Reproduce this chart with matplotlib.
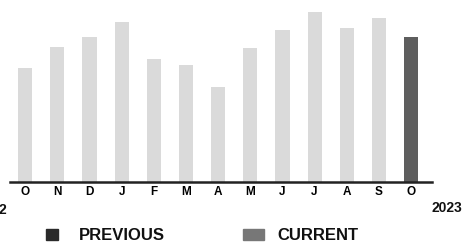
import matplotlib
matplotlib.use("Agg")
import matplotlib.pyplot as plt

# Meses (oct 2022 -> oct 2023) y alturas
meses = ["O", "N", "D", "J", "F", "M", "A", "M", "J", "J", "A", "S", "O"]
valores = [114, 135, 145, 160, 123, 117, 95, 134, 152, 170, 154, 164, 145]
es_actual = [False] * 12 + [True]
anio_ini = "2022"
anio_fin = "2023"

COLOR_PREV = "#dadada"
COLOR_ACT = "#5e5e5e"

W, H = 464, 242
fig = plt.figure(figsize=(W / 100, H / 100), dpi=100)
ax = fig.add_axes([10 / W, 1 - 182 / H, (432 - 10) / W, 182 / H])

x = list(range(len(meses)))
colores = [COLOR_ACT if a else COLOR_PREV for a in es_actual]
ax.bar(x, valores, width=0.44, color=colores, edgecolor="none")

ax.set_xlim(-0.47, 12.65)
ax.set_ylim(0, 182)
for s in ["top", "right", "left"]:
    ax.spines[s].set_visible(False)
ax.spines["bottom"].set_linewidth(1.8)
ax.spines["bottom"].set_color("#222222")
ax.set_yticks([])
ax.set_xticks(x)
ax.set_xticklabels(meses, fontsize=8.5, fontweight="bold", family="Liberation Sans")
ax.tick_params(axis="x", length=0, pad=3)

fuente = dict(family="Liberation Sans", fontweight="bold", color="#111111")
# el año inicial queda casi fuera del lienzo, como en la referencia
fig.text(7 / W, 1 - 210 / H, anio_ini, ha="right", va="center", fontsize=10, **fuente)
fig.text(432 / W, 1 - 208 / H, anio_fin, ha="left", va="center", fontsize=10, **fuente)

# Leyenda
fig.patches.append(plt.Rectangle((46 / W, 1 - 240 / H), 12 / W, 11 / H,
                                 transform=fig.transFigure, color="#2a2a2a"))
fig.patches.append(plt.Rectangle((243 / W, 1 - 240 / H), 21 / W, 11 / H,
                                 transform=fig.transFigure, color="#777777"))
fig.text(79 / W, 1 - 236 / H, "PREVIOUS", ha="left", va="center", fontsize=12, **fuente)
fig.text(277 / W, 1 - 236 / H, "CURRENT", ha="left", va="center", fontsize=12, **fuente)

fig.savefig("out.png", dpi=100)
